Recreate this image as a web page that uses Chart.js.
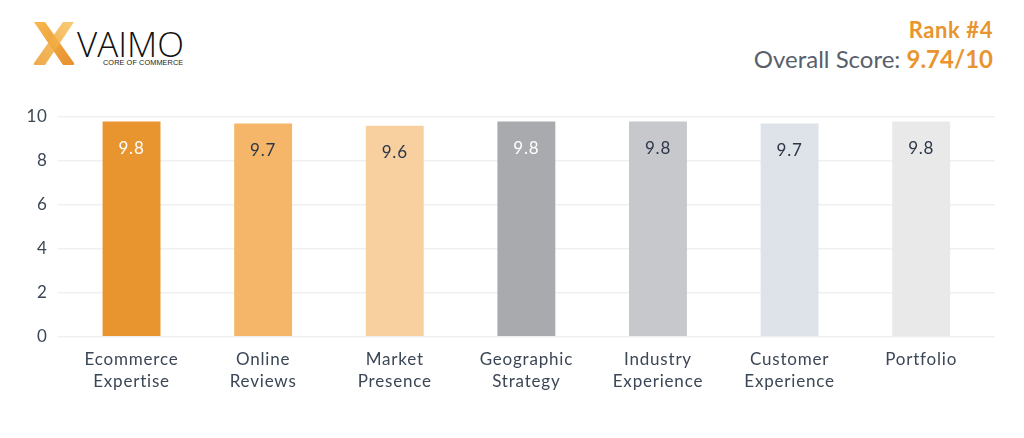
<!DOCTYPE html>
<html>
<head>
<meta charset="utf-8">
<script src="https://cdn.jsdelivr.net/npm/chart.js@4.4.1/dist/chart.umd.min.js"></script>
<style>
  html, body { margin: 0; padding: 0; background: #fff; width: 1024px; height: 438px; overflow: hidden; font-family: Lato, "Open Sans", sans-serif; }
  #wrap { position: absolute; left: 0; top: 0; width: 1024px; height: 438px; }
  #logo { position: absolute; left: 30px; top: 19px; }
  #brand { position: absolute; left: 77px; top: 24px; font-family: "Open Sans", Lato, sans-serif; font-weight: 300; font-size: 35px; color: #111; line-height: 40px; }
  #tag { position: absolute; left: 103px; top: 58px; font-family: "Liberation Sans", sans-serif; font-size: 7.3px; color: #222; letter-spacing: 0.1px; }
  #rank { position: absolute; right: 31px; top: 16px; font-weight: 700; font-size: 22px; color: #E8952F; letter-spacing: 0.6px; }
  #score { position: absolute; right: 31px; top: 44px; font-size: 24px; color: #595f6b; }
  #score b { color: #E8952F; font-weight: 700; }
  canvas { position: absolute; left: 0; top: 0; }
</style>
</head>
<body>
<div id="wrap">
  <svg id="logo" width="50" height="50" viewBox="0 0 50 50">
    <defs>
      <linearGradient id="g1" x1="0" y1="0" x2="1" y2="1">
        <stop offset="0" stop-color="#F7B445"/>
        <stop offset="1" stop-color="#E58A22"/>
      </linearGradient>
      <linearGradient id="g2" x1="1" y1="0" x2="0" y2="1">
        <stop offset="0" stop-color="#F9C15A"/>
        <stop offset="1" stop-color="#EA9A2C"/>
      </linearGradient>
    </defs>
    <path d="M4 3 L15 3 L44 44 Q45 46 42 46 L33 46 Z" fill="url(#g1)" opacity="0.95"/>
    <path d="M44 3 L33 3 L4 44 Q3 46 6 46 L15 46 Z" fill="url(#g2)" opacity="0.85"/>
  </svg>
  <div id="brand">VAIMO</div>
  <div id="tag">CORE OF COMMERCE</div>
  <div id="rank">Rank #4</div>
  <div id="score">Overall Score: <b>9.74/10</b></div>
  <canvas id="c" width="1024" height="438"></canvas>
</div>
<script>
const categories = [["Ecommerce","Expertise"],["Online","Reviews"],["Market","Presence"],["Geographic","Strategy"],["Industry","Experience"],["Customer","Experience"],["Portfolio"]];
const scores = [9.8, 9.7, 9.6, 9.8, 9.8, 9.7, 9.8];
const barColors = ["#E8952F","#F5B66A","#F8D0A0","#A9AAAD","#C6C8CC","#DEE2E9","#E9E9E9"];
const labelColors = ["#ffffff","#2d3748","#2d3748","#ffffff","#2d3748","#2d3748","#2d3748"];
const yTicks = [0, 2, 4, 6, 8, 10];

const spacing = {
  id: 'spacing',
  beforeInit(chart) { chart.ctx.letterSpacing = '0.8px'; },
  beforeDraw(chart) { chart.ctx.letterSpacing = '0.8px'; }
};

const valueLabels = {
  id: 'valueLabels',
  afterDatasetsDraw(chart) {
    const ctx = chart.ctx;
    const meta = chart.getDatasetMeta(0);
    ctx.save();
    ctx.letterSpacing = '0.8px';
    ctx.font = '17px Lato, "Open Sans", sans-serif';
    ctx.textAlign = 'center';
    ctx.textBaseline = 'middle';
    meta.data.forEach((bar, i) => {
      ctx.fillStyle = labelColors[i];
      ctx.fillText(scores[i].toFixed(1), bar.x, bar.y + 27);
    });
    ctx.restore();
  }
};

Chart.defaults.font.family = 'Lato, "Open Sans", sans-serif';
new Chart(document.getElementById('c'), {
  type: 'bar',
  data: {
    labels: categories,
    datasets: [{
      data: scores,
      backgroundColor: barColors,
      borderWidth: 0,
      barPercentage: 0.44,
      categoryPercentage: 1.0
    }]
  },
  options: {
    responsive: false,
    animation: false,
    layout: { padding: { top: 117, right: 29, bottom: 41, left: 18 } },
    plugins: { legend: { display: false }, tooltip: { enabled: false } },
    scales: {
      x: {
        grid: { display: false },
        border: { display: false },
        ticks: { color: '#3b4656', font: { size: 17, lineHeight: 1.3 }, padding: 4, maxRotation: 0, autoSkip: false }
      },
      y: {
        min: 0, max: 10,
        afterBuildTicks(axis) { axis.ticks = yTicks.map(v => ({ value: v })); },
        grid: { color: '#f0f0f0', lineWidth: 1.5, tickLength: 8, tickColor: '#f0f0f0' },
        border: { display: false },
        ticks: { color: '#3b4656', font: { size: 17 }, padding: 10 }
      },
      y2: {
        position: 'right',
        min: 0, max: 10,
        afterBuildTicks(axis) { axis.ticks = yTicks.map(v => ({ value: v })); },
        grid: { drawOnChartArea: false, drawTicks: true, tickLength: 8, color: '#f0f0f0', tickColor: '#f0f0f0', lineWidth: 1.5 },
        border: { display: false },
        ticks: { display: false }
      }
    }
  },
  plugins: [spacing, valueLabels]
});
</script>
</body>
</html>
